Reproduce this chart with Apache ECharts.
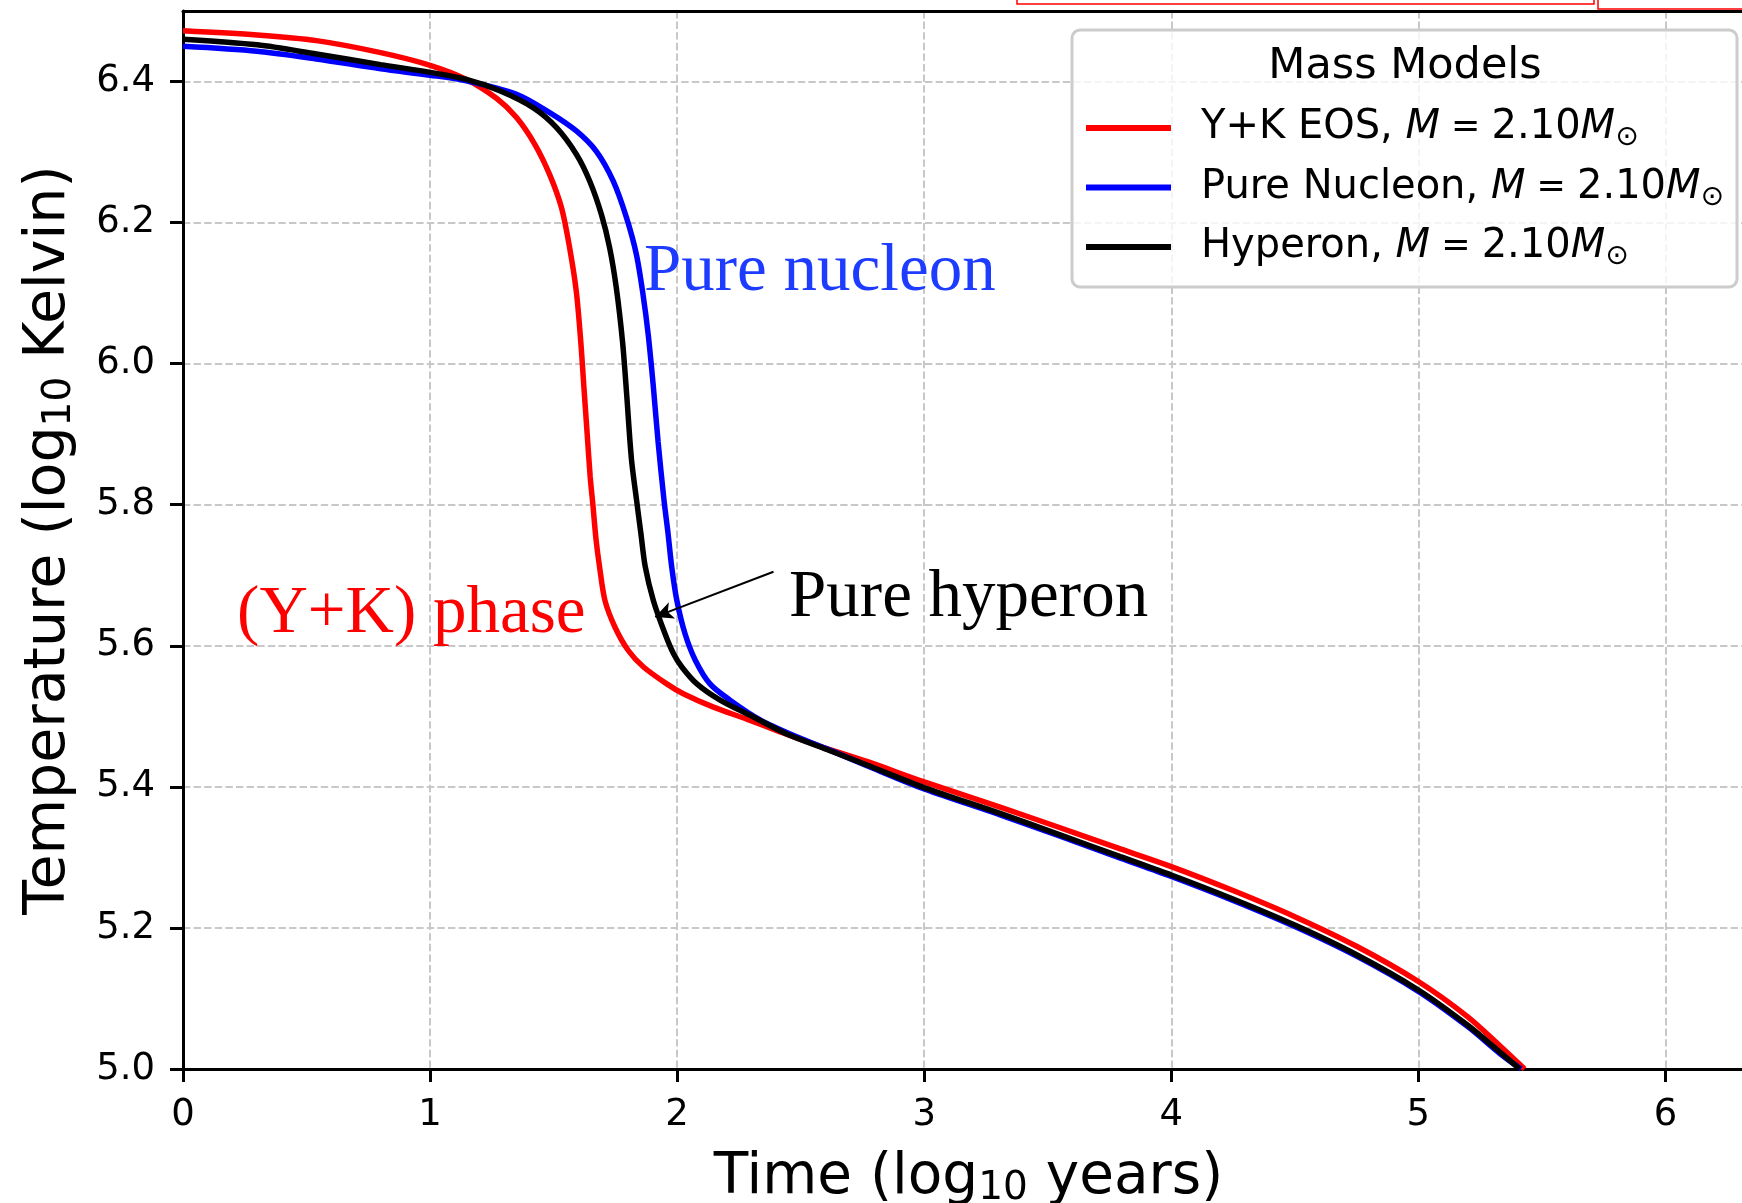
<!DOCTYPE html>
<html>
<head>
<meta charset="utf-8">
<script src="https://cdn.jsdelivr.net/npm/echarts@6/dist/echarts.min.js"></script>
<style>
html,body{margin:0;padding:0;background:#fff;}
#c{width:1742px;height:1203px;}
</style>
</head>
<body>
<div id="c"></div>
<script>
// ---------------- data ----------------
const seriesNames = ['Y+K EOS, M = 2.10M⊙', 'Pure Nucleon, M = 2.10M⊙', 'Hyperon, M = 2.10M⊙'];

const timeYK = [0, 0.3, 0.54, 0.8, 1.0, 1.147, 1.27, 1.35, 1.424, 1.484, 1.532, 1.565, 1.592, 1.61, 1.622, 1.636, 1.648, 1.659, 1.672, 1.686, 1.708, 1.749, 1.803, 1.864, 1.958, 2.025, 2.147, 2.282, 2.417, 2.566, 2.768, 3.0, 3.31, 3.55, 3.794, 4.0, 4.25, 4.5, 4.75, 5.0, 5.2, 5.33, 5.43];
const tempYK = [6.472, 6.466, 6.458, 6.441, 6.423, 6.403, 6.376, 6.349, 6.311, 6.268, 6.221, 6.164, 6.102, 6.031, 5.97, 5.90, 5.84, 5.80, 5.75, 5.712, 5.664, 5.626, 5.593, 5.570, 5.546, 5.532, 5.513, 5.496, 5.478, 5.459, 5.436, 5.407, 5.371, 5.342, 5.312, 5.287, 5.253, 5.216, 5.174, 5.124, 5.074, 5.033, 5.0];

const timeNuc = [0, 0.3, 0.54, 0.8, 1.0, 1.147, 1.35, 1.484, 1.592, 1.673, 1.741, 1.795, 1.835, 1.862, 1.883, 1.903, 1.923, 1.947, 1.963, 1.978, 1.999, 2.032, 2.073, 2.133, 2.214, 2.336, 2.484, 2.633, 2.768, 3.0, 3.31, 3.55, 3.794, 4.0, 4.25, 4.5, 4.75, 5.0, 5.2, 5.33, 5.415];
const tempNuc = [6.450, 6.443, 6.432, 6.418, 6.409, 6.401, 6.382, 6.356, 6.330, 6.301, 6.259, 6.207, 6.155, 6.098, 6.041, 5.97, 5.889, 5.806, 5.76, 5.712, 5.664, 5.617, 5.580, 5.546, 5.523, 5.495, 5.471, 5.450, 5.430, 5.397, 5.360, 5.330, 5.299, 5.273, 5.239, 5.202, 5.160, 5.110, 5.060, 5.022, 5.0];

const timeHyp = [0, 0.3, 0.54, 0.8, 1.0, 1.147, 1.282, 1.417, 1.511, 1.592, 1.646, 1.694, 1.727, 1.754, 1.779, 1.795, 1.815, 1.836, 1.853, 1.871, 1.904, 1.951, 1.985, 2.019, 2.080, 2.174, 2.309, 2.444, 2.606, 2.768, 3.0, 3.31, 3.55, 3.794, 4.0, 4.25, 4.5, 4.75, 5.0, 5.2, 5.33, 5.41];
const tempHyp = [6.460, 6.452, 6.439, 6.424, 6.413, 6.403, 6.387, 6.363, 6.335, 6.297, 6.259, 6.211, 6.164, 6.107, 6.031, 5.96, 5.865, 5.806, 5.76, 5.712, 5.664, 5.617, 5.589, 5.570, 5.546, 5.523, 5.499, 5.475, 5.453, 5.431, 5.399, 5.362, 5.332, 5.301, 5.275, 5.241, 5.204, 5.162, 5.112, 5.062, 5.024, 5.0];

const xTicks = [0, 1, 2, 3, 4, 5, 6];
const yTicks = [5.0, 5.2, 5.4, 5.6, 5.8, 6.0, 6.2, 6.4];

// annotation anchors (data coordinates)
const annoTexts = ['Pure nucleon', 'Pure hyperon', '(Y+K) phase'];
const annoAt = [[1.866, 6.102], [2.453, 5.640], [0.219, 5.618]];
const arrowFrom = [2.390, 5.705];
const arrowTo = [1.911, 5.641];

// ---------------- chart ----------------
const FONT = 'DejaVu Sans';
const SERIF = 'Liberation Serif';
const zip = (a, b) => a.map((v, i) => [v, b[i]]);
const colors = ['#ff0000', '#0000ff', '#000000'];
const annoColors = ['#1e3cff', '#000000', '#ff0000'];

const legendRich = {
  [seriesNames[0]]: 'Y+K EOS, {it|M}{sp| = }2.10{it|M}{sub|⊙}',
  [seriesNames[1]]: 'Pure Nucleon, {it|M}{sp| = }2.10{it|M}{sub|⊙}',
  [seriesNames[2]]: 'Hyperon, {it|M}{sp| = }2.10{it|M}{sub|⊙}'
};

const chart = echarts.init(document.getElementById('c'), null, {renderer: 'canvas'});

const gridLine = {show: true, lineStyle: {color: '#c8c8c8', width: 2, type: [7.4, 3.2]}};

function mkSeries(i, data) {
  return {
    name: seriesNames[i], type: 'line', data: data,
    xAxisIndex: 0, yAxisIndex: 0,
    symbol: 'none', showSymbol: false, smooth: 0.3,
    clip: true, z: 2 + i,
    lineStyle: {color: colors[i], width: 5.5},
    itemStyle: {color: colors[i]},
    emphasis: {disabled: true}
  };
}

const nameRich = {sub: {fontFamily: FONT, fontSize: 39, lineHeight: 28, verticalAlign: 'bottom', color: '#000'}};

const option = {
  animation: false,
  backgroundColor: '#ffffff',
  grid: {left: 183, top: 11, right: 0, bottom: 134, containLabel: false, outerBoundsMode: 'none'},
  xAxis: [{
    type: 'value', min: 0, max: 6.31, interval: 1,
    axisLine: {show: true, onZero: false, lineStyle: {color: '#000', width: 3}},
    axisTick: {show: true, inside: false, length: 13, customValues: xTicks, lineStyle: {color: '#000', width: 3}},
    axisLabel: {show: true, customValues: xTicks, fontFamily: FONT, fontSize: 37, lineHeight: 37, color: '#000', margin: 28,
      formatter: v => String(v)},
    splitLine: gridLine,
    name: 'Time (log{sub|10} years)', nameLocation: 'middle', nameGap: 79,
    nameTextStyle: {fontFamily: FONT, fontSize: 56.5, lineHeight: 60, color: '#000', padding: [0, 0, 0, 12], rich: nameRich}
  }, {
    type: 'value', position: 'top', min: 0, max: 6.31,
    axisLine: {show: true, onZero: false, lineStyle: {color: '#000', width: 3}},
    axisTick: {show: false}, axisLabel: {show: false}, splitLine: {show: false}
  }],
  yAxis: [{
    type: 'value', min: 5.0, max: 6.5, interval: 0.2,
    axisLine: {show: true, onZero: false, lineStyle: {color: '#000', width: 3}},
    axisTick: {show: true, inside: false, length: 13, customValues: yTicks, lineStyle: {color: '#000', width: 3}},
    axisLabel: {show: true, customValues: yTicks, fontFamily: FONT, fontSize: 37, lineHeight: 37, color: '#000', margin: 28,
      padding: [6, 0, 0, 0], formatter: v => Number(v).toFixed(1)},
    splitLine: gridLine,
    name: 'Temperature (log{sub|10} Kelvin)', nameLocation: 'middle', nameGap: 104, nameRotate: 90,
    nameTextStyle: {fontFamily: FONT, fontSize: 57, lineHeight: 60, color: '#000', rich: nameRich}
  }],
  legend: {
    show: true, orient: 'vertical', left: 1086, top: 104, padding: 0,
    icon: 'rect', itemWidth: 85, itemHeight: 6, itemGap: 11.5,
    data: seriesNames, selectedMode: false,
    formatter: name => legendRich[name],
    textStyle: {fontFamily: FONT, fontSize: 40, lineHeight: 48, color: '#000', padding: [0, 0, 0, 25],
      rich: {
        it: {fontFamily: FONT, fontStyle: 'italic', fontSize: 40, lineHeight: 48, color: '#000'},
        sp: {fontFamily: FONT, fontSize: 35, lineHeight: 48, color: '#000'},
        sub: {fontFamily: FONT, fontSize: 28, lineHeight: 24, verticalAlign: 'bottom', color: '#000'}
      }}
  },
  series: [
    mkSeries(0, zip(timeYK, tempYK)),
    mkSeries(1, zip(timeNuc, tempNuc)),
    Object.assign(mkSeries(2, zip(timeHyp, tempHyp)), {
      markLine: {
        silent: true, symbol: ['none', 'arrow'], symbolSize: [13, 18],
        label: {show: false}, emphasis: {disabled: true},
        lineStyle: {color: '#000', width: 2, type: 'solid'},
        data: [[{coord: arrowFrom}, {coord: arrowTo}]]
      }
    })
  ]
};

chart.setOption(option);

// static decorations + annotations positioned via the chart's own coordinate system
const graphics = [
  {type: 'rect', z: 3, silent: true,
    shape: {x: 1072, y: 30, width: 665, height: 257, r: 8},
    style: {fill: 'rgba(255,255,255,0.8)', stroke: '#cccccc', lineWidth: 3}},
  {type: 'text', z: 5, silent: true, x: 1405, y: 67,
    style: {text: 'Mass Models', font: '43px "DejaVu Sans"', fill: '#000', align: 'center', verticalAlign: 'middle'}},
  {type: 'rect', z: 5, silent: true, shape: {x: 1017, y: -10, width: 577, height: 14},
    style: {fill: 'none', stroke: '#ff0000', lineWidth: 1.5}},
  {type: 'rect', z: 5, silent: true, shape: {x: 1598, y: -10, width: 200, height: 19},
    style: {fill: 'none', stroke: '#ff0000', lineWidth: 1.5}}
];
annoTexts.forEach((t, i) => {
  const p = chart.convertToPixel({seriesIndex: 0}, annoAt[i]);
  graphics.push({type: 'text', z: 6, silent: true, x: p[0], y: p[1] - 0.3375 * 67 + 3.5,
    style: {text: t, font: '67px "' + SERIF + '"', fill: annoColors[i], align: 'left', verticalAlign: 'middle'}});
});
chart.setOption({graphic: graphics});
</script>
</body>
</html>
